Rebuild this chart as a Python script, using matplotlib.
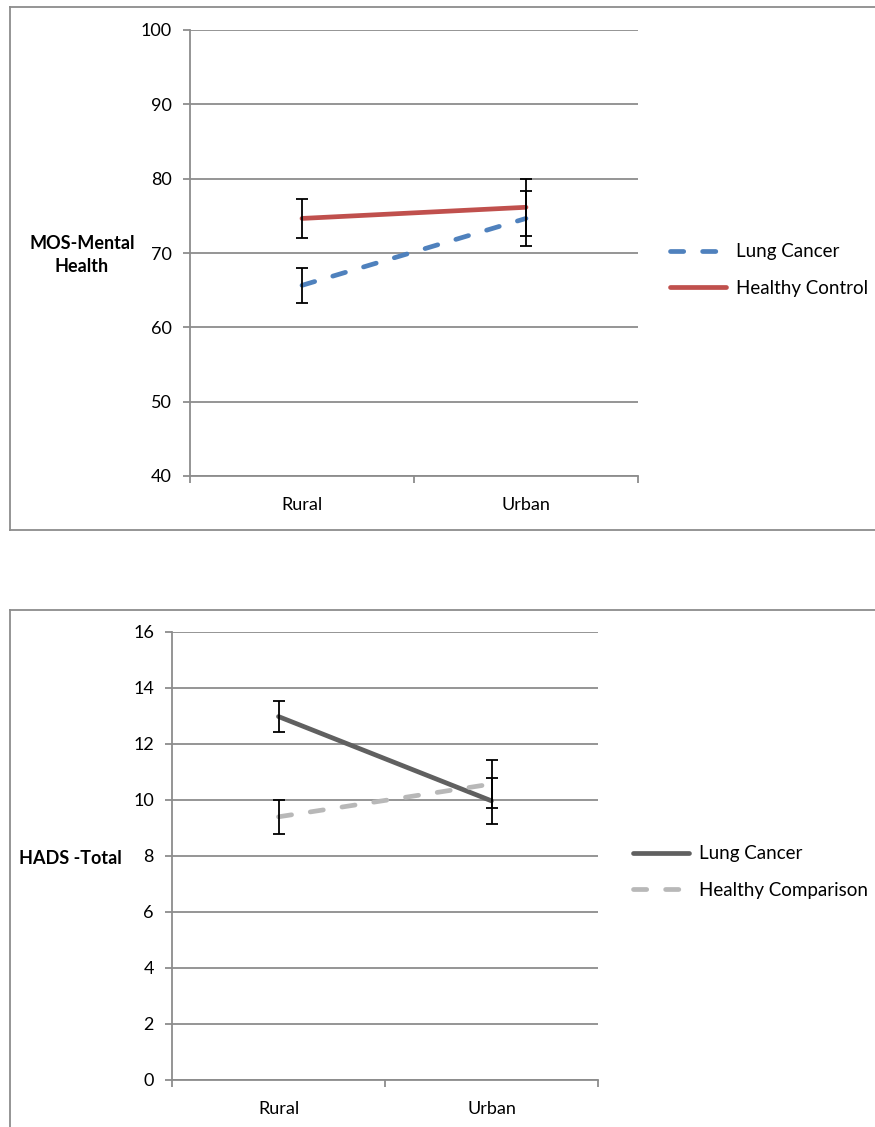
import matplotlib.pyplot as plt
from matplotlib.lines import Line2D

plt.rcParams['font.family'] = ['Lato', 'DejaVu Sans']

W, H = 875, 1127

# shared categories
groups = ['Rural', 'Urban']

# top chart: MOS-Mental Health
mos_lung = [65.65, 74.65]
mos_lung_err = [2.35, 3.65]
mos_healthy = [74.65, 76.15]
mos_healthy_err = [2.65, 3.85]
mos_ticks = [40, 50, 60, 70, 80, 90, 100]

# bottom chart: HADS total
hads_lung = [12.98, 9.97]
hads_lung_err = [0.54, 0.82]
hads_healthy = [9.4, 10.57]
hads_healthy_err = [0.6, 0.86]
hads_ticks = [0, 2, 4, 6, 8, 10, 12, 14, 16]

GRID = '#8c8c8c'
FS = 13
LFS = 13.5
DASH = (0, (2.8, 4.0))


def px_axes(fig, x0, y0, x1, y1):
    # pixel box (top-left origin) -> figure fraction
    return fig.add_axes([x0 / W, 1 - y1 / H, (x1 - x0) / W, (y1 - y0) / H])


def style(ax, ticks):
    ax.set_xlim(-0.5, 1.5)
    ax.set_ylim(ticks[0], ticks[-1])
    ax.set_yticks(ticks)
    ax.yaxis.grid(True, color=GRID, lw=1.3)
    ax.set_axisbelow(True)
    for s in ['top', 'right']:
        ax.spines[s].set_visible(False)
    for s in ['left', 'bottom']:
        ax.spines[s].set_color(GRID)
        ax.spines[s].set_linewidth(1.3)
    ax.set_xticks([0, 1], groups)
    ax.set_xticks([-0.5, 0.5, 1.5], minor=True)
    ax.tick_params(axis='x', which='major', length=0, pad=15, labelsize=FS)
    ax.tick_params(axis='x', which='minor', length=5, width=1.3, color=GRID)
    ax.tick_params(axis='y', length=5, width=1.3, color=GRID, pad=8, labelsize=FS)


def box(fig, top, bottom):
    kw = dict(color='#8c8c8c', lw=1.3, transform=fig.transFigure)
    fig.add_artist(Line2D([10 / W, 10 / W], [1 - top / H, 1 - bottom / H], **kw))
    fig.add_artist(Line2D([10 / W, 1], [1 - top / H, 1 - top / H], **kw))
    if bottom < H:
        fig.add_artist(Line2D([10 / W, 1], [1 - bottom / H, 1 - bottom / H], **kw))


fig = plt.figure(figsize=(W / 100, H / 100), dpi=100)

box(fig, 7, 530)
box(fig, 610, H + 5)

x = [0, 1]
err_kw = dict(fmt='none', ecolor='black', elinewidth=1.3, capsize=4, capthick=1.3, zorder=4)

# top
ax1 = px_axes(fig, 190, 30, 638, 476)
style(ax1, mos_ticks)
ax1.plot(x, mos_lung, color='#4f81bd', lw=3.4, ls=DASH, dash_capstyle='round',
         label='Lung Cancer', zorder=3)
ax1.plot(x, mos_healthy, color='#c0504d', lw=3.4, solid_capstyle='round',
         label='Healthy Control', zorder=3)
ax1.errorbar(x, mos_lung, yerr=mos_lung_err, **err_kw)
ax1.errorbar(x, mos_healthy, yerr=mos_healthy_err, **err_kw)
fig.legend(*ax1.get_legend_handles_labels(), loc='center left',
           bbox_to_anchor=(670 / W, 1 - 270 / H), frameon=False, fontsize=LFS,
           handlelength=3.0, handletextpad=0.5, labelspacing=1.05,
           borderpad=0, borderaxespad=0)
fig.text(82 / W, 1 - 255 / H, 'MOS-Mental\nHealth', ha='center', va='center',
         fontsize=FS, fontweight='bold', linespacing=1.45)

# bottom
ax2 = px_axes(fig, 172, 632, 598, 1080)
style(ax2, hads_ticks)
ax2.plot(x, hads_lung, color='#606060', lw=3.4, solid_capstyle='round',
         label='Lung Cancer', zorder=3)
ax2.plot(x, hads_healthy, color='#b8b8b8', lw=3.4, ls=DASH, dash_capstyle='round',
         label='Healthy Comparison', zorder=3)
ax2.errorbar(x, hads_lung, yerr=hads_lung_err, **err_kw)
ax2.errorbar(x, hads_healthy, yerr=hads_healthy_err, **err_kw)
fig.legend(*ax2.get_legend_handles_labels(), loc='center left',
           bbox_to_anchor=(633 / W, 1 - 872 / H), frameon=False, fontsize=LFS,
           handlelength=3.0, handletextpad=0.5, labelspacing=1.05,
           borderpad=0, borderaxespad=0)
fig.text(70 / W, 1 - 858 / H, 'HADS -Total', ha='center', va='center',
         fontsize=FS, fontweight='bold')

fig.savefig('out.png', dpi=100)
